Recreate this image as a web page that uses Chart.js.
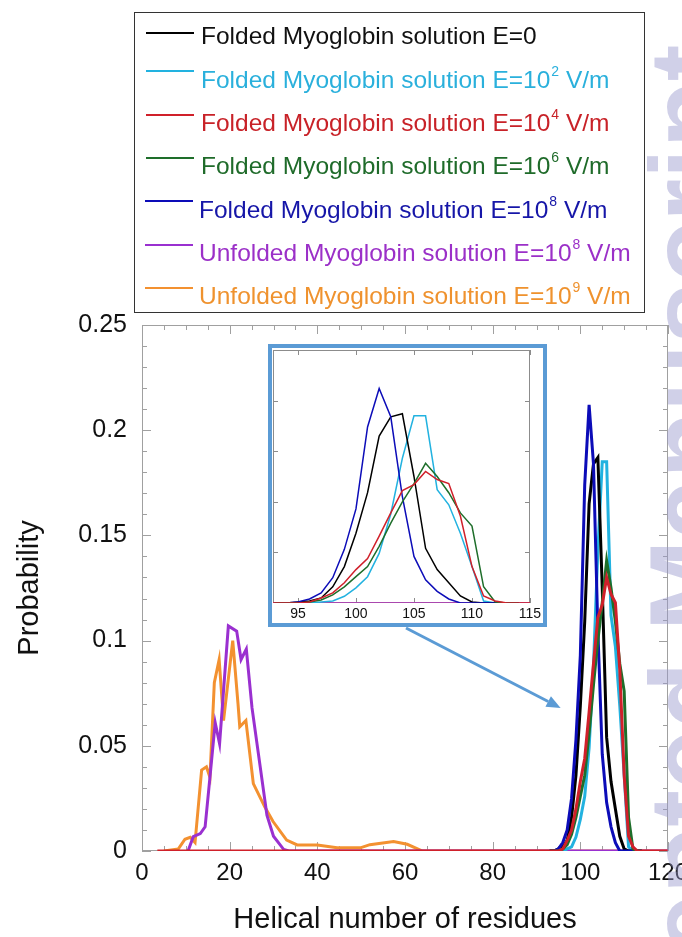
<!DOCTYPE html>
<html>
<head>
<meta charset="utf-8">
<title>Helical number of residues</title>
<script src="https://cdn.jsdelivr.net/npm/chart.js@4.4.1/dist/chart.umd.min.js"></script>
<style>
  html, body { margin: 0; padding: 0; background: #fff; }
  #wrap { position: relative; width: 682px; height: 937px; overflow: hidden;
          font-family: "Liberation Sans", Arial, sans-serif; }
  #main { position: absolute; left: 0; top: 0; }
  #legend { position: absolute; left: 134px; top: 12px; width: 511px; height: 301px;
            border: 1.5px solid #333; box-sizing: border-box; }
  .lg-line { position: absolute; height: 2px; width: 48px; }
  .lg-text { position: absolute; font-size: 24.5px; line-height: 24.5px; white-space: nowrap; }
  .lg-text .sp { position: relative; top: -12px; font-size: 14px; margin-left: 1px; }
  #insetBox { position: absolute; left: 268px; top: 344px; width: 279px; height: 283px;
              border: 4px solid #5b9bd5; box-sizing: border-box; background: #fff; }
  #inset { position: absolute; left: 0; top: 0; }
  #wm { position: absolute; left: 633px; top: 1157px; transform-origin: 0 0; transform: rotate(-90deg);
        font: bold 110px "Liberation Sans", Arial, sans-serif; line-height: 1; white-space: nowrap;
        color: rgba(150,150,205,0.45); pointer-events: none; }
</style>
</head>
<body>
<div id="wrap">
  <canvas id="main" width="682" height="937"></canvas>
  <div id="legend"></div>
  <div id="insetBox"><canvas id="inset" width="271" height="275"></canvas></div>
  <div id="wm">Accepted Manuscript</div>
</div>
<script>
// folded myoglobin: probability per helical residue count
const residues = [93, 94, 95, 96, 97, 98, 99, 100, 101, 102, 103, 104, 105, 106, 107, 108, 109, 110, 111, 112, 113, 114];
const foldedE0 = [0, 0, 0.001, 0.002, 0.005, 0.016, 0.036, 0.069, 0.109, 0.165, 0.184, 0.187, 0.125, 0.054, 0.033, 0.02, 0.007, 0.001, 0, 0, 0, 0];
const foldedE2 = [0, 0, 0, 0, 0.001, 0.002, 0.0066, 0.015, 0.026, 0.049, 0.088, 0.143, 0.185, 0.185, 0.112, 0.097, 0.069, 0.036, 0.002, 0, 0, 0];
const foldedE4 = [0, 0, 0, 0.001, 0.005, 0.01, 0.02, 0.033, 0.044, 0.066, 0.089, 0.111, 0.117, 0.13, 0.122, 0.118, 0.086, 0.036, 0.007, 0.002, 0, 0];
const foldedE6 = [0, 0, 0, 0.001, 0.003, 0.008, 0.016, 0.026, 0.036, 0.056, 0.079, 0.1, 0.118, 0.138, 0.125, 0.109, 0.089, 0.076, 0.016, 0.001, 0, 0];
const foldedE8 = [0, 0, 0.001, 0.004, 0.01, 0.025, 0.053, 0.093, 0.174, 0.212, 0.184, 0.105, 0.046, 0.023, 0.0115, 0.004, 0, 0, 0, 0, 0, 0];
// red baseline runs the whole axis
const redBaseX = [3.5, 120];

// unfolded myoglobin
const unfoldedE8X = [10.5, 11.7, 13.3, 14.4, 15.5, 16.7, 17.7, 19.7, 21.6, 22.6, 23.8, 25.1, 28.5, 30, 32.3, 33.5, 120];
const unfoldedE8Y = [0, 0.0068, 0.0083, 0.0115, 0.035, 0.061, 0.051, 0.107, 0.1045, 0.091, 0.096, 0.068, 0.017, 0.007, 0.0008, 0, 0];
const unfoldedE9X = [5, 8.3, 9.8, 11, 12.1, 13.6, 14.7, 15.5, 16.5, 17.6, 18.6, 20.7, 21.9, 22.3, 23.7, 25.4, 28, 29.9, 33, 35.4, 40, 44.5, 49.8, 52, 57.4, 60.5, 64, 120];
const unfoldedE9Y = [0, 0.001, 0.0056, 0.0065, 0.004, 0.0385, 0.04, 0.035, 0.08, 0.091, 0.062, 0.1, 0.07, 0.059, 0.062, 0.032, 0.021, 0.014, 0.0052, 0.0029, 0.0029, 0.0015, 0.0015, 0.003, 0.0045, 0.0032, 0, 0];

const seriesLabels = [
  'Folded Myoglobin solution E=0',
  'Folded Myoglobin solution E=10<span class="sp">2</span> V/m',
  'Folded Myoglobin solution E=10<span class="sp">4</span> V/m',
  'Folded Myoglobin solution E=10<span class="sp">6</span> V/m',
  'Folded Myoglobin solution E=10<span class="sp">8</span> V/m',
  'Unfolded Myoglobin solution E=10<span class="sp">8</span> V/m',
  'Unfolded Myoglobin solution E=10<span class="sp">9</span> V/m'
];
const seriesColors = ['#000000', '#22b2e0', '#d0202a', '#1e6e2a', '#0c0cb8', '#9a30d0', '#f39130'];
const legendTextColors = ['#111111', '#2ab0dc', '#c82228', '#1f6b2a', '#1616a8', '#9b30c8', '#ef922e'];

const xTicks = [0, 20, 40, 60, 80, 100, 120];
const yTicks = [0, 0.05, 0.1, 0.15, 0.2, 0.25];
const insetXTicks = [95, 100, 105, 110, 115];
const insetYTicks = [0.05, 0.1, 0.15, 0.2];

function pts(xs, ys) {
  return xs.map((x, i) => ({x: x, y: ys[i]}));
}

function makeDatasets(width) {
  const red = [{x: redBaseX[0], y: 0}].concat(pts(residues, foldedE4), [{x: redBaseX[1], y: 0}]);
  const series = [
    pts(residues, foldedE0), pts(residues, foldedE2), red, pts(residues, foldedE6),
    pts(residues, foldedE8), pts(unfoldedE8X, unfoldedE8Y), pts(unfoldedE9X, unfoldedE9Y)
  ];
  // lower order is drawn on top: red over everything
  const orders = [3, 4, 0, 1, 2, 5, 6];
  return series.map((d, i) => ({
    label: seriesLabels[i].replace(/<[^>]+>/g, ''),
    data: d,
    borderColor: seriesColors[i],
    borderWidth: width,
    order: orders[i],
    pointRadius: 0,
    tension: 0,
    fill: false
  }));
}

function range(a, b, step) {
  const out = [];
  for (let v = a; v <= b + 1e-9; v += step) out.push(+v.toFixed(4));
  return out;
}

// frame + inward tick marks on all four sides
const insideTicks = {
  id: 'insideTicks',
  beforeDatasetsDraw(chart, args, o) {
    const {ctx, chartArea: a, scales: {x, y}} = chart;
    ctx.save();
    ctx.strokeStyle = o.color;
    ctx.lineWidth = 1;
    ctx.strokeRect(a.left + 0.5, a.top + 0.5, a.right - a.left - 1, a.bottom - a.top - 1);
    ctx.beginPath();
    const mark = (vals, len, isX) => vals.forEach(v => {
      if (isX) {
        const px = Math.round(x.getPixelForValue(v)) + 0.5;
        ctx.moveTo(px, a.top); ctx.lineTo(px, a.top + len);
        ctx.moveTo(px, a.bottom); ctx.lineTo(px, a.bottom - len);
      } else {
        const py = Math.round(y.getPixelForValue(v)) + 0.5;
        ctx.moveTo(a.left, py); ctx.lineTo(a.left + len, py);
        ctx.moveTo(a.right, py); ctx.lineTo(a.right - len, py);
      }
    });
    mark(o.xMinor, o.minorLen, true);
    mark(o.yMinor, o.minorLen, false);
    mark(o.xMajor, o.majorLen, true);
    mark(o.yMajor, o.majorLen, false);
    ctx.stroke();
    ctx.restore();
  }
};

const zoomArrow = {
  id: 'zoomArrow',
  afterDraw(chart, args, o) {
    const {ctx, scales: {x, y}} = chart;
    const ex = x.getPixelForValue(o.tip[0]), ey = y.getPixelForValue(o.tip[1]);
    const sx = o.from[0], sy = o.from[1];
    const ang = Math.atan2(ey - sy, ex - sx);
    const c = Math.cos(ang), s = Math.sin(ang);
    const head = 14, half = 6;
    ctx.save();
    ctx.strokeStyle = o.color;
    ctx.fillStyle = o.color;
    ctx.lineWidth = 3;
    ctx.beginPath();
    ctx.moveTo(sx, sy);
    ctx.lineTo(ex - head * c, ey - head * s);
    ctx.stroke();
    ctx.beginPath();
    ctx.moveTo(ex, ey);
    ctx.lineTo(ex - head * c + half * s, ey - head * s - half * c);
    ctx.lineTo(ex - head * c - half * s, ey - head * s + half * c);
    ctx.closePath();
    ctx.fill();
    ctx.restore();
  }
};

const mainChart = new Chart(document.getElementById('main'), {
  type: 'line',
  data: {datasets: makeDatasets(3)},
  options: {
    responsive: false,
    animation: false,
    layout: {padding: {left: 0, top: 325, right: 14, bottom: 0}},
    plugins: {
      legend: {display: false},
      tooltip: {enabled: false},
      insideTicks: {
        color: '#a0a0a0', majorLen: 9, minorLen: 5,
        xMajor: xTicks, yMajor: yTicks,
        xMinor: range(0, 120, 5), yMinor: range(0, 0.25, 0.01)
      },
      zoomArrow: {color: '#5b9bd5', from: [406, 628], tip: [95.5, 0.068]}
    },
    scales: {
      x: {
        type: 'linear', min: 0, max: 120,
        grid: {display: false, drawTicks: false},
        border: {display: false},
        afterBuildTicks: s => { s.ticks = xTicks.map(v => ({value: v})); },
        ticks: {color: '#111', padding: 8, font: {family: 'Liberation Sans', size: 24}, maxRotation: 0},
        title: {display: true, text: 'Helical number of residues', color: '#111',
                font: {family: 'Liberation Sans', size: 29}, padding: {top: 0, bottom: 0}},
        afterFit: s => { s.height = 86; s.paddingLeft = 0; s.paddingRight = 0; }
      },
      y: {
        type: 'linear', min: 0, max: 0.25,
        grid: {display: false, drawTicks: false},
        border: {display: false},
        afterBuildTicks: s => { s.ticks = yTicks.map(v => ({value: v})); },
        ticks: {color: '#111', padding: 15, font: {family: 'Liberation Sans', size: 25},
                callback: v => String(+v.toFixed(2))},
        title: {display: true, text: 'Probability', color: '#111',
                font: {family: 'Liberation Sans', size: 29}, padding: {top: 13, bottom: 0}},
        afterFit: s => { s.width = 142; s.paddingTop = 0; s.paddingBottom = 0; }
      }
    }
  },
  plugins: [insideTicks, zoomArrow]
});

const insetChart = new Chart(document.getElementById('inset'), {
  type: 'line',
  data: {datasets: makeDatasets(1.5)},
  options: {
    responsive: false,
    animation: false,
    layout: {padding: {left: 1, top: 2, right: 13, bottom: 0}},
    plugins: {
      legend: {display: false},
      tooltip: {enabled: false},
      insideTicks: {
        color: '#8c8c8c', majorLen: 5, minorLen: 0,
        xMajor: insetXTicks, yMajor: insetYTicks, xMinor: [], yMinor: []
      }
    },
    scales: {
      x: {
        type: 'linear', min: 92.85, max: 115,
        grid: {display: false, drawTicks: false},
        border: {display: false},
        afterBuildTicks: s => { s.ticks = insetXTicks.map(v => ({value: v})); },
        ticks: {color: '#111', padding: 3, font: {family: 'Liberation Sans', size: 14}, maxRotation: 0},
        afterFit: s => { s.height = 20; s.paddingLeft = 0; s.paddingRight = 0; }
      },
      y: {
        type: 'linear', min: 0, max: 0.25,
        grid: {display: false, drawTicks: false},
        border: {display: false},
        ticks: {display: false},
        afterFit: s => { s.width = 0; s.paddingTop = 0; s.paddingBottom = 0; }
      }
    }
  },
  plugins: [insideTicks]
});

// legend box with coloured text and superscripts
const wrap = document.getElementById('wrap');
seriesLabels.forEach((html, i) => {
  const base = 45 + i * 43.3;
  const line = document.createElement('div');
  line.className = 'lg-line';
  line.style.background = seriesColors[i];
  line.style.left = (i < 4 ? 146 : 145) + 'px';
  line.style.top = (base - (i === 0 ? 13 : 18)) + 'px';
  wrap.insertBefore(line, document.getElementById('insetBox'));
  const text = document.createElement('div');
  text.className = 'lg-text';
  text.style.color = legendTextColors[i];
  text.style.left = (i < 4 ? 201 : 199) + 'px';
  text.style.top = (base - 20.7) + 'px';
  text.innerHTML = html;
  wrap.insertBefore(text, document.getElementById('insetBox'));
});
</script>
</body>
</html>
